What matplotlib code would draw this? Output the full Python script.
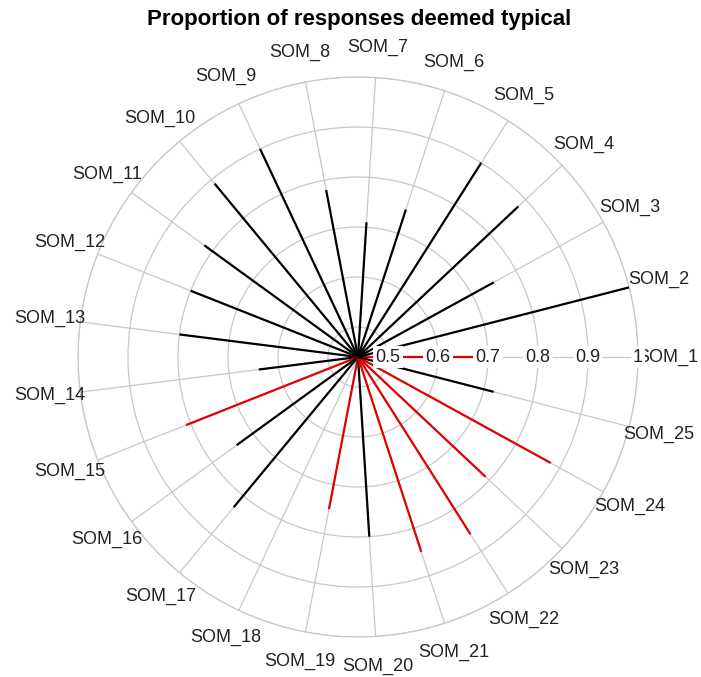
import numpy as np
import matplotlib
matplotlib.use("Agg")
import matplotlib.pyplot as plt

plt.rcParams['font.family'] = ['Liberation Sans', 'DejaVu Sans']

# Proportion of responses deemed typical, one value per SOM item
labels = [f"SOM_{i}" for i in range(1, 26)]
values = [0.70, 1.00, 0.75, 0.88, 0.90, 0.75, 0.71, 0.78, 0.90, 0.89,
          0.82, 0.80, 0.80, 0.64, 0.81, 0.74, 0.83, 0.44, 0.75, 0.80,
          0.85, 0.86, 0.79, 0.88, 0.72]
# Items highlighted in red
flagged = ["SOM_1", "SOM_15", "SOM_19", "SOM_21", "SOM_22", "SOM_23", "SOM_24"]
radial_ticks = [0.5, 0.6, 0.7, 0.8, 0.9, 1.0]
radial_tick_labels = ["0.5", "0.6", "0.7", "0.8", "0.9", "1"]

r_min = min(values)
r_max = max(radial_ticks)

W, H = 701, 677
fig = plt.figure(figsize=(W / 100, H / 100), dpi=100)
cx, cy, rad = 358, 357, 280
ax = fig.add_axes([(cx - rad) / W, (H - cy - rad) / H, 2 * rad / W, 2 * rad / H],
                  projection='polar')

n = len(labels)
theta = np.arange(n) * 2 * np.pi / n

ax.set_ylim(r_min, r_max)
ax.set_xticks(theta)
ax.set_xticklabels([])
ax.set_yticks(radial_ticks)
ax.set_yticklabels([])
ax.grid(True, color='#c8c8c8', lw=0.9)
ax.spines['polar'].set_color('#c8c8c8')
ax.spines['polar'].set_linewidth(0.9)
ax.tick_params(length=0)

for t, v, lab in zip(theta, values, labels):
    color = '#e00000' if lab in flagged else 'black'
    ax.plot([t, t], [r_min, v], color=color, lw=1.6, solid_capstyle='butt', zorder=3)

# Category labels around the outside
label_r = r_min + (r_max - r_min) * 1.108
for t, lab in zip(theta, labels):
    ax.text(t, label_r, lab, ha='center', va='center', fontsize=13,
            color='#222222', clip_on=False, zorder=4)

# Boxed radial labels along the zero-angle spoke
for r, txt in zip(radial_ticks, radial_tick_labels):
    ax.text(0, r, txt, ha='center', va='center', fontsize=13, color='#222222',
            bbox=dict(boxstyle='square,pad=0.12', fc='white', ec='none'),
            clip_on=False, zorder=5)

fig.text(359.5 / W, 1 - 19 / H, "Proportion of responses deemed typical",
         ha='center', va='center', fontsize=16, fontweight='bold', color='black')

fig.savefig("out.png", dpi=100, facecolor='white')
